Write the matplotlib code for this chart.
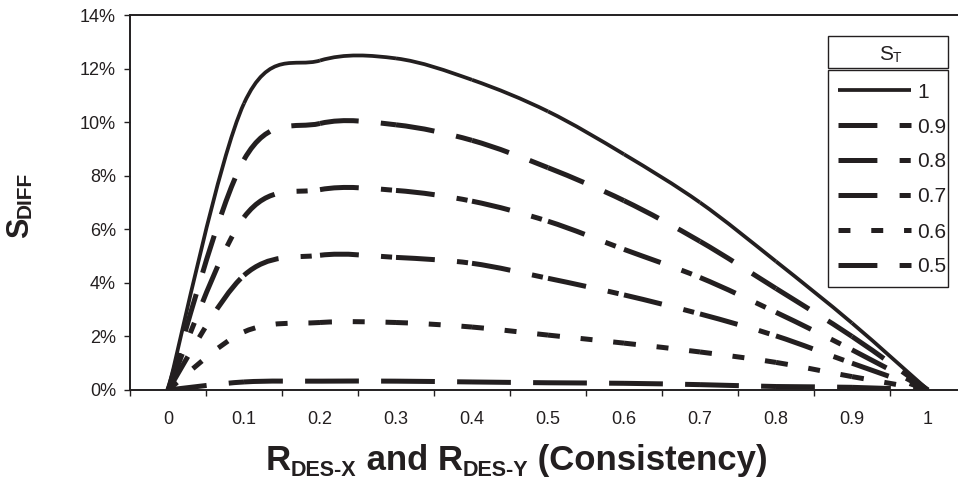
import numpy as np
import matplotlib.pyplot as plt
from matplotlib.path import Path
from matplotlib.patches import PathPatch, Rectangle
from matplotlib.lines import Line2D

plt.rcParams['font.family'] = ['Liberation Sans', 'DejaVu Sans']
plt.rcParams['lines.scale_dashes'] = False

# data (S_DIFF in %)
consistency = [0, 0.1, 0.2, 0.3, 0.4, 0.5, 0.6, 0.7, 0.8, 0.9, 1.0]
st_labels = ['1', '0.9', '0.8', '0.7', '0.6', '0.5']
sdiff_10 = [0, 10.7, 12.3, 12.38, 11.58, 10.4, 8.8, 7.0, 4.8, 2.5, 0]
sdiff_09 = [0, 8.6, 9.95, 9.9, 9.32, 8.3, 7.07, 5.55, 3.79, 2.0, 0]
sdiff_08 = [0, 6.45, 7.48, 7.45, 7.05, 6.3, 5.25, 4.2, 2.9, 1.5, 0]
sdiff_07 = [0, 4.28, 5.03, 4.95, 4.73, 4.17, 3.55, 2.84, 2.02, 1.0, 0]
sdiff_06 = [0, 2.17, 2.52, 2.52, 2.35, 2.05, 1.75, 1.42, 1.03, 0.5, 0]
sdiff_05 = [0, 0.3, 0.33, 0.33, 0.3, 0.27, 0.25, 0.2, 0.13, 0.1, 0]

series = [sdiff_10, sdiff_09, sdiff_08, sdiff_07, sdiff_06, sdiff_05]

# dash patterns in points (Excel restarts them at every data point)
long_dash = (0, (28, 16))
long_dash_dot = (0, (28, 16, 8, 16))
dash = (0, (8.6, 15))
styles = ['solid', long_dash, long_dash_dot, long_dash_dot, dash, long_dash]
widths = [2.7, 3.6, 3.6, 3.6, 3.6, 3.6]
ink = '#231f20'
fs = 13
fs_leg = 15


def smooth_segments(xs, ys):
    # Excel-like smoothed line: one cubic bezier per pair of points
    pts = np.column_stack([xs, ys]).astype(float)
    n = len(pts)
    segs = []
    for i in range(n - 1):
        p_prev = pts[max(i - 1, 0)]
        p0 = pts[i]
        p1 = pts[i + 1]
        p_next = pts[min(i + 2, n - 1)]
        c1 = p0 + (p1 - p_prev) / 6
        c2 = p1 - (p_next - p0) / 6
        segs.append(Path([p0, c1, c2, p1],
                         [Path.MOVETO, Path.CURVE4, Path.CURVE4, Path.CURVE4]))
    return segs


fig = plt.figure(figsize=(9.58, 4.8), dpi=100)
ax = fig.add_axes([130 / 958, 1 - 390 / 480, 836 / 958, 375 / 480])

for ys, ls, lw in zip(series, styles, widths):
    for seg in smooth_segments(consistency, ys):
        ax.add_patch(PathPatch(seg, fill=False, edgecolor=ink, lw=lw,
                               linestyle=ls, capstyle='butt', joinstyle='round'))

ax.set_xlim(-0.05, 1.05)
ax.set_ylim(0, 14)

ax.set_xticks(consistency)
ax.set_xticklabels(['0', '0.1', '0.2', '0.3', '0.4', '0.5', '0.6', '0.7', '0.8', '0.9', '1'])
ax.set_xticks(np.arange(-0.05, 1.06, 0.1), minor=True)
ax.tick_params(axis='x', which='major', length=0, pad=15, labelsize=fs, colors=ink)
ax.tick_params(axis='x', which='minor', length=4, width=1, direction='out', color=ink)

yt = np.arange(0, 15, 2)
ax.set_yticks(yt)
ax.set_yticklabels([f'{v}%' for v in yt])
ax.tick_params(axis='y', length=4, width=1, direction='out', pad=6, labelsize=fs, colors=ink)

for side in ['left', 'bottom', 'top']:
    ax.spines[side].set_color(ink)
    ax.spines[side].set_linewidth(1.4)
ax.spines['right'].set_visible(False)

# legend, laid out by hand in figure pixels (Excel style)
W, H = 958, 480
fig.patches.append(Rectangle((828 / W, 1 - 287 / H), 120 / W, 217 / H,
                             transform=fig.transFigure, facecolor='white',
                             edgecolor=ink, lw=1.0, zorder=5))
for i, (lab, ls, lw) in enumerate(zip(st_labels, styles, widths)):
    yy = 1 - (90 + 35 * i) / H
    fig.add_artist(Line2D([838 / W, 911 / W], [yy, yy], transform=fig.transFigure,
                          color=ink, lw=lw, linestyle=ls, solid_capstyle='butt',
                          dash_capstyle='butt', zorder=6))
    fig.text(917 / W, yy, lab, fontsize=fs_leg, color=ink, ha='left', va='center_baseline',
             zorder=6)

# legend header box
fig.patches.append(Rectangle((828 / W, 1 - 68 / H), 120 / W, 32 / H,
                             transform=fig.transFigure, fill=False, edgecolor=ink, lw=1.0))
ts = fig.text(879 / W, 1 - 52 / H, 'S', fontsize=fs_leg, color=ink, ha='left',
              va='center_baseline')
ax.annotate('T', xy=(1, 0), xycoords=ts, xytext=(0, -1), textcoords='offset points',
            fontsize=10, color=ink, ha='left', va='bottom')

# y axis title: S with DIFF subscript
t1 = fig.text(35 / W, 1 - 238 / H, 'S', fontsize=22, weight='bold', rotation=90,
              ha='right', va='bottom', color=ink)
ax.annotate('DIFF', xy=(1, 1), xycoords=t1, xytext=(0, 0), textcoords='offset points',
            fontsize=15, weight='bold', rotation=90, ha='right', va='bottom', color=ink)

# x axis title
big, small = 25, 15.5
r1 = fig.text(266 / W, 1 - 470 / H, 'R', fontsize=big, weight='bold',
              ha='left', va='baseline', color=ink)
r2 = ax.annotate('DES-X', xy=(1, 0), xycoords=r1, xytext=(0, -3), textcoords='offset points',
                 fontsize=small, weight='bold', ha='left', va='bottom', color=ink)
r3 = ax.annotate(' and R', xy=(1, 0), xycoords=r2, xytext=(0, 3), textcoords='offset points',
                 fontsize=big, weight='bold', ha='left', va='bottom', color=ink)
r4 = ax.annotate('DES-Y', xy=(1, 0), xycoords=r3, xytext=(0, -3), textcoords='offset points',
                 fontsize=small, weight='bold', ha='left', va='bottom', color=ink)
ax.annotate(' (Consistency)', xy=(1, 0), xycoords=r4, xytext=(0, 3), textcoords='offset points',
            fontsize=big, weight='bold', ha='left', va='bottom', color=ink)

fig.savefig('out.png', dpi=100)
